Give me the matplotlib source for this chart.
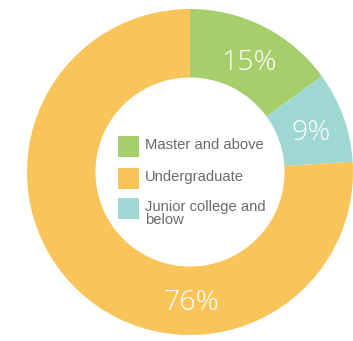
import matplotlib
matplotlib.use("Agg")
import matplotlib.pyplot as plt
import numpy as np
from matplotlib.patches import Rectangle

# data
categories = ["Master and above", "Junior college and\nbelow", "Undergraduate"]
shares = [15, 9, 76]
colors = ["#a6cf6b", "#9fd7d3", "#f9c55b"]
legend_order = [0, 2, 1]

W, H = 353, 341
cx, cy, R = 190, 172, 163  # pixel centre / radius of the ring

fig = plt.figure(figsize=(W / 100, H / 100), dpi=100)
ax = fig.add_axes([0, 0, 1, 1])

wedges, _ = ax.pie(shares, colors=colors, startangle=90, counterclock=False,
                   radius=1.0, wedgeprops=dict(width=0.42, linewidth=0),
                   frame=False)
ax.set_xlim(-cx / R, (W - cx) / R)
ax.set_ylim(-(H - cy) / R, cy / R)
ax.axis("off")

# percentage labels
for i, w in enumerate(wedges):
    ang = np.deg2rad((w.theta1 + w.theta2) / 2)
    if shares[i] > 50:
        ang = np.deg2rad(-90)
    r = 0.78
    ax.text(r * np.cos(ang) + 0.01, r * np.sin(ang) - 0.025, f"{shares[i]}%",
            ha="center", va="center", color="white", fontsize=20.5,
            family="Open Sans", fontweight="light")

# legend in the hole
def fx(px):
    return px / W

def fy(py):
    return 1 - py / H

rows_y = [136, 168, 198]
for k, i in enumerate(legend_order):
    y0 = rows_y[k]
    fig.patches.append(Rectangle((fx(118), fy(y0 + 21)), 21 / W, 21 / H,
                                 transform=fig.transFigure, color=colors[i],
                                 linewidth=0))
    fig.text(fx(145), fy(y0 + 2), categories[i], ha="left", va="top",
             color="#6b6b6b", fontsize=10.6, family="Liberation Sans",
             linespacing=0.92)

fig.savefig("out.png", dpi=100)
